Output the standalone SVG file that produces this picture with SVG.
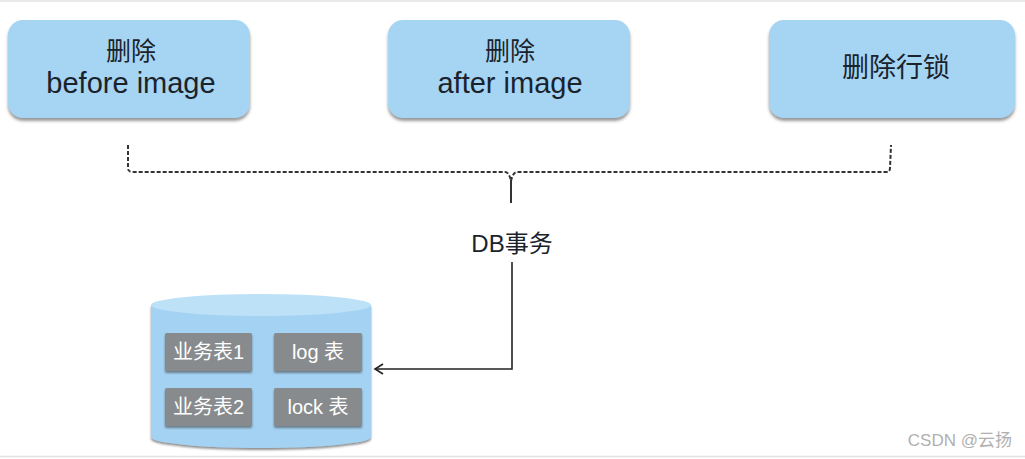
<svg xmlns="http://www.w3.org/2000/svg" width="1025" height="459" viewBox="0 0 1025 459">
<defs>
<filter id="sh" x="-10%" y="-10%" width="120%" height="130%">
<feDropShadow dx="0" dy="3" stdDeviation="1.5" flood-color="#555" flood-opacity="0.6"/>
</filter>
<filter id="sh2" x="-10%" y="-10%" width="120%" height="130%">
<feDropShadow dx="0" dy="2" stdDeviation="1" flood-color="#444" flood-opacity="0.6"/>
</filter>
<marker id="arr" markerWidth="12" markerHeight="12" refX="10" refY="6" orient="auto" markerUnits="userSpaceOnUse">
<path d="M2,1 L10,6 L2,11" fill="none" stroke="#222" stroke-width="1.6"/>
</marker>
<style>
.box{fill:#a6d4f3;filter:url(#sh);}
.t{font-family:"Liberation Sans","Noto Sans CJK SC",sans-serif;fill:#1a232b;text-anchor:middle;}
.g{fill:#888b8d;filter:url(#sh2);}
.w{font-family:"Liberation Sans","Noto Sans CJK SC",sans-serif;fill:#ffffff;font-size:20px;text-anchor:middle;}
.dash{fill:none;stroke:#333;stroke-width:2;stroke-dasharray:4 2;}
</style>
</defs>
<rect width="1025" height="459" fill="#ffffff"/>
<line x1="0" y1="1" x2="1025" y2="1" stroke="#e2e2e2" stroke-width="1.5"/>
<line x1="0" y1="456.5" x2="1025" y2="456.5" stroke="#e2e2e2" stroke-width="1.5"/>

<g id="node-before">
<rect class="box" x="8" y="20" width="242" height="98" rx="15"/>
<text class="t" x="131" y="60" font-size="25">删除</text>
<text class="t" x="131" y="93" font-size="29">before image</text>
</g>
<g id="node-after">
<rect class="box" x="388" y="20" width="242" height="98" rx="15"/>
<text class="t" x="510" y="60" font-size="25">删除</text>
<text class="t" x="510" y="93" font-size="29">after image</text>
</g>
<g id="node-lock">
<rect class="box" x="769" y="20" width="246" height="98" rx="15"/>
<text class="t" x="896" y="77" font-size="27">删除行锁</text>
</g>

<g id="node-db">
<path d="M151,305 L151,437 A110,11 0 0 0 371,437 L371,305 Z" fill="#a3d2f2" filter="url(#sh2)"/>
<ellipse cx="261" cy="305" rx="110" ry="11" fill="#bde1f7"/>
<g id="tbl1"><rect class="g" x="165" y="333" width="87" height="38" rx="1.5"/><text class="w" x="208.5" y="359">业务表1</text></g>
<g id="tbl-log"><rect class="g" x="274" y="333" width="88" height="38" rx="1.5"/><text class="w" x="318" y="359">log 表</text></g>
<g id="tbl2"><rect class="g" x="165" y="388" width="87" height="38" rx="1.5"/><text class="w" x="208.5" y="414">业务表2</text></g>
<g id="tbl-lock"><rect class="g" x="274" y="388" width="88" height="38" rx="1.5"/><text class="w" x="318" y="414">lock 表</text></g>
</g>

<g id="node-tx">
<text class="t" x="512" y="252" font-size="24">DB事务</text>
</g>

<g id="connectors">
<path class="dash" d="M128,145 L128,168 Q128,172 132,172 L505,172 Q509,172 511,181 M511,181 Q513,172 517,172 L886,172 Q890,172 890,168 L891,145"/>
<line x1="511" y1="180" x2="511" y2="203" stroke="#333" stroke-width="2"/>
<path d="M512,262 L512,369 L375,369" fill="none" stroke="#222" stroke-width="1.6" marker-end="url(#arr)"/>
</g>

<text x="1012" y="446" font-family="Liberation Sans,Noto Sans CJK SC,sans-serif" font-size="17" fill="#b0b0b0" text-anchor="end">CSDN @云扬</text>
</svg>
